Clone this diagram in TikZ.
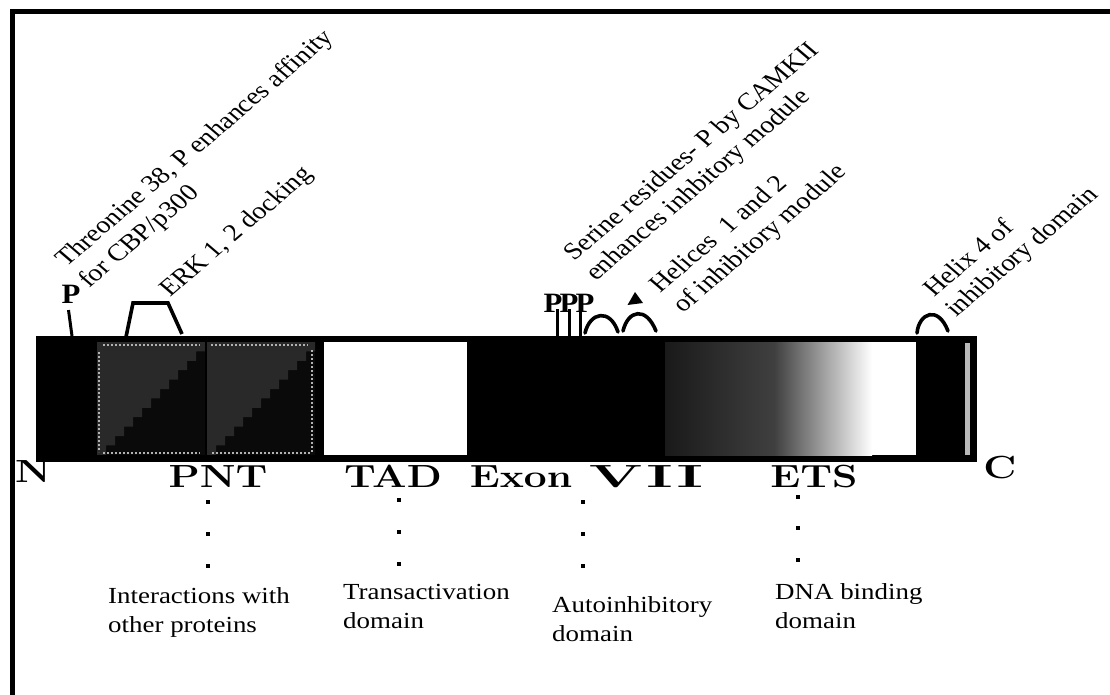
\documentclass[tikz,border=0pt]{standalone}
\usepackage{fontspec}
\setmainfont{Liberation Serif}
\newfontfamily\lmfont{Latin Modern Roman}
\begin{document}
\begin{tikzpicture}[x=1pt,y=-1pt,
  rot/.style={font=\fontsize{24}{28}\selectfont, inner sep=0pt, xscale=1.17, rotate=45, anchor=base west},
  desc/.style={font=\fontsize{23}{28}\selectfont, inner sep=0pt, xscale=1.17, anchor=base west},
  dom/.style={font=\lmfont\bfseries\fontsize{32}{36}\selectfont, inner sep=0pt, xscale=1.27, anchor=base},
  pmark/.style={font=\bfseries\fontsize{28}{30}\selectfont, inner sep=0pt, xscale=1.1, anchor=base},
  dotsq/.style={fill=black, inner sep=0pt, minimum size=3.8pt},
  stalk/.style={line width=3pt},
  helix/.style={line width=3.6pt, line cap=round},
  speck/.style={gray!60, line width=2pt, dotted},
]
\useasboundingbox (0,0) rectangle (1110,695);
% frame (top and left only)
\draw[line width=5pt] (12.5,695) -- (12.5,12) -- (1110,12);

% ---- protein bar ----
\fill (36,336) rectangle (977,462);
% PNT domain (patterned)
\fill[black!96] (97,342) rectangle (315,455);
\fill[black!84] (205,342) \foreach \i in {1,...,12} { -- ++(0,9.4) -- ++(-9,0) } -- (97,342) -- cycle;
\fill[black!84] (315,342) \foreach \i in {1,...,12} { -- ++(0,9.4) -- ++(-9,0) } -- (207,342) -- cycle;
\fill[black] (205,342) rectangle (207,455);
\draw[speck] (99,352) -- (99,452);
\draw[speck] (103,344.5) -- (200,344.5);
\draw[speck] (211,344.5) -- (308,344.5);
\draw[speck] (312,350) -- (312,452);
\draw[speck] (103,453) -- (200,453);
\draw[speck] (212,453) -- (310,453);
% TAD (white)
\fill[white] (324,342) rectangle (467,455);
% ETS (gradient)
\shade[left color=black!90, right color=black!75] (665,342) rectangle (775,455);
\shade[left color=black!75, right color=white] (774.5,342) rectangle (872,455);
\fill[white] (871.5,342) rectangle (916,455);
% thin light stripe at C-terminus
\fill[gray!55] (965,343) rectangle (970,455);

% ---- markers above the bar ----
\node[pmark] (pT) at (71,303) {P};
\draw[stalk] (68.5,310) -- (72,336);
\draw[line width=3.6pt, line join=miter] (126,337) -- (133,303) -- (168,303) -- (182,334);
\node[pmark] (pS) at (569,312) {P\kern-2.5pt P\kern-2.5pt P};
\draw[stalk] (557,309) -- (557,336);
\draw[stalk] (569.5,309) -- (569.5,336);
\draw[stalk] (580.5,309) -- (580.5,336);
\draw[helix] (585,333) .. controls (590,312) and (610,308) .. (618,332);
\draw[helix] (623,331) .. controls (628,310) and (646,306) .. (656,331);
\fill (635,292) -- (627.5,305) -- (643,303) -- cycle;
\draw[helix] (917,333) .. controls (919,313) and (938,305) .. (948,331);

% ---- rotated annotations ----
\node[rot] (t1a) at (66,268) {Threonine 38, P enhances affinity};
\node[rot] (t1b) at (89,289) {for CBP/p300};
\node[rot] (t2) at (170,298) {ERK 1, 2 docking};
\node[rot] (t3a) at (574,262) {Serine residues- P by CAMKII};
\node[rot] (t3b) at (596,282) {enhances inhbitory module};
\node[rot] (t4a) at (660,294) {Helices\ \ 1 and 2};
\node[rot] (t4b) at (683,314) {of inhibitory module};
\node[rot] (t5a) at (934,298) {Helix 4 of};
\node[rot] (t5b) at (956,318) {inhibitory domain};

% ---- domain labels ----
\node[dom] (N) at (33,482) {N};
\node[dom] (C) at (1000,478) {C};
\node[dom] (PNT) at (218,487) {PNT};
\node[dom] (TAD) at (393,487) {TAD};
\node[dom] (Exon) at (521,487) {Exon};
\node[dom, xscale=1.55] (VII) at (646,487) {V\kern2pt I\kern2pt I};
\node[dom] (ETS) at (814,487) {ETS};

% ---- dotted leaders ----
\foreach \y [count=\k] in {502,534,566} { \node[dotsq] (dp\k) at (208,\y) {}; }
\foreach \y [count=\k] in {500,532,564} { \node[dotsq] (dt\k) at (399,\y) {}; }
\foreach \y [count=\k] in {502,534,566} { \node[dotsq] (de\k) at (583,\y) {}; }
\foreach \y [count=\k] in {497,528,560} { \node[dotsq] (ds\k) at (798,\y) {}; }

% ---- descriptions ----
\node[desc] (d1a) at (108,603) {Interactions with};
\node[desc] (d1b) at (108,632) {other proteins};
\node[desc] (d2a) at (343,599) {Transactivation};
\node[desc] (d2b) at (343,628) {domain};
\node[desc] (d3a) at (552,612) {Autoinhibitory};
\node[desc] (d3b) at (552,641) {domain};
\node[desc] (d4a) at (775,599) {DNA binding};
\node[desc] (d4b) at (775,628) {domain};
\end{tikzpicture}
\end{document}
